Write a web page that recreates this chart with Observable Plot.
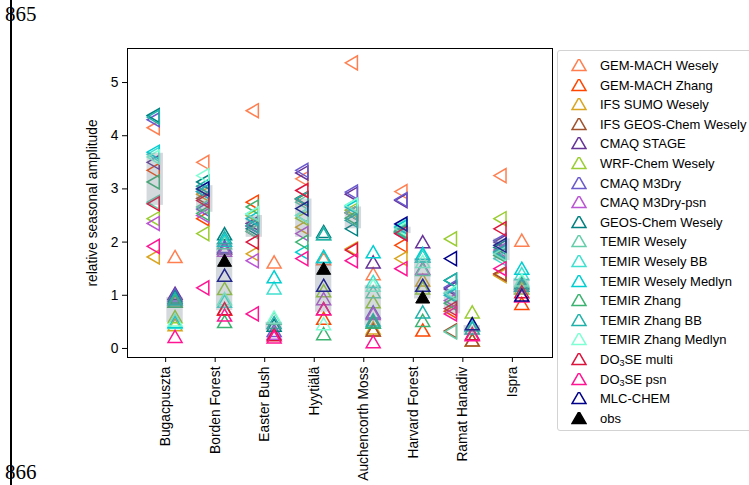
<!DOCTYPE html>
<html>
<head>
<meta charset="utf-8">
<script src="https://cdn.jsdelivr.net/npm/d3@7"></script>
<script src="https://cdn.jsdelivr.net/npm/@observablehq/plot@0.6"></script>
<style>
  html, body { margin: 0; padding: 0; background: white; }
  body { width: 749px; height: 485px; overflow: hidden; position: relative; font-family: "Liberation Sans", Arial, sans-serif; }
  #chart { position: absolute; left: 0; top: 0; }
  #legend { position: absolute; left: 557px; top: 50px; width: 210px; height: 381px; border: 1px solid #d3d3d3; border-radius: 3px; background: rgba(255,255,255,0.9); box-sizing: border-box; padding-top: 5px; }
  .row { position: relative; height: 19.6px; font-size: 13px; line-height: 19.6px; white-space: nowrap; }
  .row svg { position: absolute; left: 13px; top: 3px; }
  .row span.t { position: absolute; left: 42px; top: 0; }
  sub { font-size: 9px; vertical-align: -2px; line-height: 0; }
  .pg { position: absolute; font-family: "Liberation Serif", "DejaVu Serif", serif; font-size: 21px; line-height: 21px; color: black; }
  #vline { position: absolute; left: 10px; top: 0; width: 2px; height: 485px; background: black; }
</style>
</head>
<body>
<div id="chart"></div>
<div id="legend"></div>
<div id="vline"></div>
<div class="pg" style="left:5px; top:4px;">865</div>
<div class="pg" style="left:5px; top:462px;">866</div>
<script>
const sites = ["Bugacpuszta", "Borden Forest", "Easter Bush", "Hyytiälä", "Auchencorth Moss", "Harvard Forest", "Ramat Hanadiv", "Ispra"];

const models = ["GEM-MACH Wesely", "GEM-MACH Zhang", "IFS SUMO Wesely", "IFS GEOS-Chem Wesely", "CMAQ STAGE", "WRF-Chem Wesely", "CMAQ M3Dry", "CMAQ M3Dry-psn", "GEOS-Chem Wesely", "TEMIR Wesely", "TEMIR Wesely BB", "TEMIR Wesely Medlyn", "TEMIR Zhang", "TEMIR Zhang BB", "TEMIR Zhang Medlyn", "DO3SE multi", "DO3SE psn", "MLC-CHEM"];

const modelColors = ["coral", "orangered", "goldenrod", "sienna", "rebeccapurple", "yellowgreen", "slateblue", "mediumorchid", "teal", "mediumaquamarine", "turquoise", "darkturquoise", "mediumseagreen", "lightseagreen", "aquamarine", "crimson", "deeppink", "darkblue"];

// left-pointing markers (first column at each site), per model, per site
const leftAmp = [
  [4.15, 3.50, 4.47, 3.19, 5.37, 2.95, null, 3.25],
  [3.35, 2.44, 2.75, 2.80, 2.55, 1.94, 0.70, 1.40],
  [1.72, 2.90, 1.78, 2.28, 1.87, 1.69, null, 1.37],
  [null, 2.82, 2.20, 2.82, 2.55, 2.18, 0.33, 1.40],
  [3.50, 2.95, 2.35, 3.30, 2.90, 2.78, 1.12, 2.00],
  [2.44, 2.16, 2.50, 2.45, 2.60, 2.18, 2.06, 2.44],
  [4.30, 2.62, 2.30, 3.35, 2.94, 2.80, 1.15, 2.03],
  [2.35, 2.50, 1.65, 2.16, 2.55, 2.16, 0.90, 1.85],
  [4.38, 3.13, 2.25, 2.81, 2.25, 2.20, 1.28, 1.90],
  [2.75, 2.66, 2.20, 2.75, 2.55, 2.22, 0.31, 1.78],
  [3.65, 3.00, 2.53, 2.50, 2.69, 2.30, 1.03, 1.69],
  [3.69, 2.95, 2.44, 1.81, 2.66, 2.28, 1.00, 1.80],
  [3.13, 2.54, 2.66, 2.00, 2.45, 2.20, 0.85, 1.75],
  [4.35, 3.05, 2.31, 2.81, 2.41, 2.18, 1.28, 1.82],
  [3.60, 3.25, 2.53, 2.50, 2.69, 2.25, 1.05, 1.78],
  [2.72, 2.78, 2.00, 2.97, 1.85, 2.16, 0.75, 2.25],
  [1.92, 1.14, 0.65, 1.69, 1.65, 1.50, 0.65, 1.50],
  [null, 3.00, null, 2.63, null, 2.34, 1.69, 1.94]
];

// upward markers (second column at each site), per model, per site
const rightAmp = [
  [1.69, null, 1.59, 1.65, 1.37, null, null, 2.00],
  [0.85, 0.70, null, 0.53, 0.31, 0.31, null, 0.81],
  [0.41, null, null, null, 0.35, 1.25, 0.12, null],
  [null, null, null, null, 0.31, null, 0.12, null],
  [1.00, 1.85, null, null, 1.59, 1.97, null, null],
  [0.56, 1.09, null, 1.05, 0.84, 1.10, 0.65, 1.10],
  [0.97, 1.88, 0.30, null, 0.65, null, null, null],
  [0.90, 1.81, 0.25, 0.90, 0.62, 1.47, null, 1.15],
  [0.93, 2.12, 0.40, 2.16, 0.46, 1.70, 0.40, 1.20],
  [0.88, 1.95, 0.53, 2.12, 1.03, 1.45, null, 1.22],
  [0.45, 0.85, 1.10, 1.69, 1.22, 1.70, 0.40, 1.37],
  [0.47, 2.00, 1.31, 1.69, 1.78, 1.75, null, 1.47],
  [0.85, 0.47, null, 0.24, 0.46, 0.49, null, null],
  [0.90, 2.05, 0.45, 2.12, 0.50, 0.65, 0.35, 1.15],
  [0.50, 0.90, 0.55, 0.43, 1.15, 1.60, null, 1.25],
  [null, 0.71, 0.22, 0.71, null, null, 0.24, 1.03],
  [0.19, 0.59, 0.18, 0.71, 0.09, null, 0.22, 0.95],
  [null, 1.34, null, 1.15, null, 1.15, 0.43, 0.97]
];

const obsRight = [null, 1.62, null, 1.47, null, 0.93, null, null];

const leftBoxLo  = [2.69, 2.56, 2.09, 2.09, 2.25, 2.16, 0.65, 1.65];
const leftBoxHi  = [3.67, 3.06, 2.50, 2.81, 2.66, 2.28, 1.09, 2.06];
const rightBoxLo = [0.49, 0.71, 0.34, 0.68, 0.43, 0.93, 0.24, 1.00];
const rightBoxHi = [0.96, 1.97, 0.49, 1.60, 1.18, 1.69, 0.43, 1.31];

const yTicks = [0, 1, 2, 3, 4, 5];

const offL = -0.21, offR = 0.19, halfW = 0.165;

const pts = [];
models.forEach((m, mi) => {
  sites.forEach((s, si) => {
    if (leftAmp[mi][si] != null) pts.push({x: si + offL, y: leftAmp[mi][si], c: modelColors[mi], rot: -90, ord: mi * 2});
    if (rightAmp[mi][si] != null) pts.push({x: si + offR, y: rightAmp[mi][si], c: modelColors[mi], rot: 0, ord: mi * 2 + 1});
  });
});
const boxes = [];
sites.forEach((s, si) => {
  boxes.push({x1: si + offL - halfW, x2: si + offL + halfW, y1: leftBoxLo[si], y2: leftBoxHi[si]});
  boxes.push({x1: si + offR - halfW, x2: si + offR + halfW, y1: rightBoxLo[si], y2: rightBoxHi[si]});
});
const obs = sites.map((s, si) => ({x: si + offR, y: obsRight[si]})).filter(d => d.y != null);

const chart = Plot.plot({
  width: 749,
  height: 485,
  marginLeft: 127,
  marginRight: 197,
  marginTop: 48,
  marginBottom: 128,
  style: {fontFamily: "'Liberation Sans', Arial, sans-serif", fontSize: "13.8px", background: "transparent", color: "black"},
  x: {type: "linear", domain: [-0.77, 7.81]},
  y: {domain: [-0.17, 5.64]},
  color: {type: "identity"},
  marks: [
    Plot.axisX({ticks: d3.range(sites.length), tickFormat: i => sites[i], tickRotate: -90, tickSize: 5, tickPadding: 4, label: null}),
    Plot.axisY({ticks: yTicks, tickFormat: d3.format("d"), tickSize: 5, tickPadding: 4, label: null}),
    Plot.axisY({ticks: [], tickSize: 0, label: "relative seasonal amplitude", labelAnchor: "center", labelArrow: "none", labelOffset: 40}),
    Plot.dot(pts, {x: "x", y: "y", symbol: "triangle", rotate: "rot", r: 5.2, stroke: "c", fill: "none", strokeWidth: 1.5, sort: "ord"}),
    Plot.rect(boxes, {x1: "x1", x2: "x2", y1: "y1", y2: "y2", fill: "slategray", fillOpacity: 0.3}),
    Plot.dot(obs, {x: "x", y: "y", symbol: "triangle", r: 5.2, fill: "black", stroke: "black", strokeWidth: 1}),
    Plot.frame({stroke: "black", strokeWidth: 1})
  ]
});
document.getElementById("chart").appendChild(chart);

// legend
const legend = document.getElementById("legend");
const legendItems = models.map((m, i) => ({label: m, color: modelColors[i], filled: false}));
legendItems.push({label: "obs", color: "black", filled: true});
legendItems.forEach(it => {
  const row = document.createElement("div");
  row.className = "row";
  const sym = d3.symbol(d3.symbolTriangle, 85)();
  row.innerHTML = `<svg width="16" height="15" viewBox="-8 -7.5 16 15"><path d="${sym}" fill="${it.filled ? it.color : "none"}" stroke="${it.color}" stroke-width="1.5"/></svg>`;
  const t = document.createElement("span");
  t.className = "t";
  t.innerHTML = it.label.replace("DO3SE", "DO<sub>3</sub>SE");
  row.appendChild(t);
  legend.appendChild(row);
});
</script>
</body>
</html>
